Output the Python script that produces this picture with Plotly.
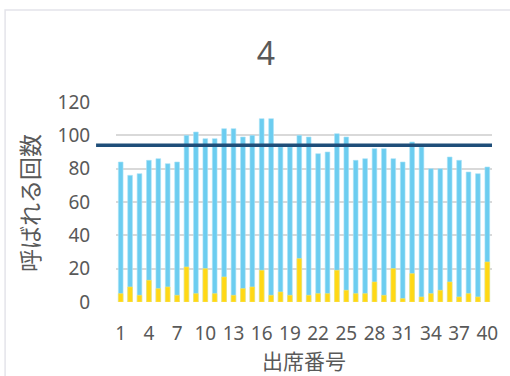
import plotly.graph_objects as go

# 出席番号 1..40
student_no = list(range(1, 41))

# 呼ばれる回数 (total)
total_calls = [84, 76, 77, 85, 86, 83, 84, 100, 102, 98,
               98, 104, 104, 99, 100, 110, 110, 93, 93, 100,
               99, 89, 90, 101, 99, 85, 86, 92, 92, 86,
               84, 96, 93, 80, 80, 87, 85, 78, 77, 81]

# 呼ばれる回数 (subset shown in yellow)
sub_calls = [5, 9, 4, 13, 8, 9, 4, 21, 5, 20,
             5, 15, 4, 8, 9, 19, 4, 6, 4, 26,
             4, 5, 5, 19, 7, 5, 5, 12, 4, 20,
             2, 17, 3, 5, 7, 12, 3, 5, 3, 24]

reference_level = 94

x_tick_vals = list(range(1, 41, 3))
x_tick_text = [str(v) for v in x_tick_vals]
y_tick_vals = [0, 20, 40, 60, 80, 100, 120]

FONT = "Noto Sans, Noto Sans CJK JP, sans-serif"
GRAY = "#595959"

fig = go.Figure()
fig.add_trace(go.Bar(
    x=student_no, y=total_calls, marker=dict(color="#6CCDF0", line=dict(color="#A9E2F7", width=0.6)),
    width=0.5, showlegend=False, hoverinfo="x+y"))
fig.add_trace(go.Bar(
    x=student_no, y=sub_calls, marker=dict(color="#FFD815", line=dict(color="#FFE766", width=0.6)),
    width=0.5, showlegend=False, hoverinfo="x+y"))

# average line spanning the plot area
fig.add_shape(type="line", xref="paper", yref="y", x0=-0.053, x1=1.0,
              y0=reference_level, y1=reference_level,
              line=dict(color="#1F4E79", width=3.5), layer="above")

# chart card outline
fig.add_shape(type="rect", xref="paper", yref="paper",
              x0=-0.295, x1=1.1, y0=-0.38, y1=1.46,
              line=dict(color="#E4E4EA", width=1.5), fillcolor="rgba(0,0,0,0)", layer="below")

fig.update_layout(
    width=510, height=376,
    margin=dict(l=116, r=18, t=102, b=74),
    paper_bgcolor="white", plot_bgcolor="white",
    barmode="overlay",
    font=dict(family=FONT, color=GRAY),
    title=dict(text="4", x=266 / 510, xanchor="center", y=1 - 54 / 376, yanchor="middle",
               font=dict(size=32, color=GRAY, family=FONT)),
    xaxis=dict(range=[0.5, 40.5], tickmode="array", tickvals=x_tick_vals, ticktext=x_tick_text,
               showgrid=False, zeroline=False, showline=False,
               ticks="outside", ticklen=14, tickcolor="rgba(0,0,0,0)",
               tickfont=dict(size=19, color=GRAY)),
    yaxis=dict(range=[0, 120], tickmode="array", tickvals=y_tick_vals,
               showgrid=True, gridcolor="#D9D9D9", gridwidth=1.5, zeroline=False,
               showline=False, ticks="outside", ticklen=21, tickcolor="rgba(0,0,0,0)",
               tickfont=dict(size=19, color=GRAY)),
    annotations=[
        dict(text="呼ばれる回数", xref="paper", yref="paper",
             x=(30 - 116) / 376, y=(302 - 203) / 200, textangle=-90,
             showarrow=False, xanchor="center", yanchor="middle",
             font=dict(size=23, color=GRAY, family=FONT)),
        dict(text="出席番号", xref="paper", yref="paper",
             x=0.5, y=-(361 - 302) / 200, showarrow=False,
             xanchor="center", yanchor="middle",
             font=dict(size=21, color=GRAY, family=FONT)),
    ],
)

fig.write_html("out.html")
